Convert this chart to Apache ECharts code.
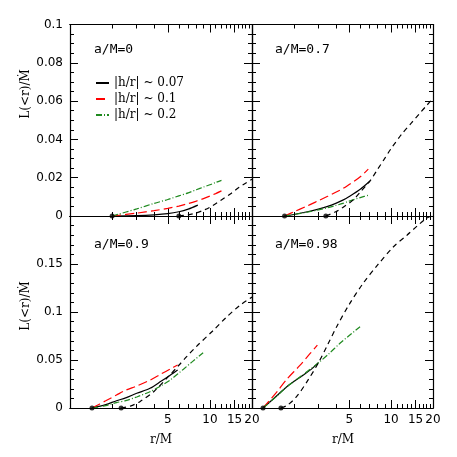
<!DOCTYPE html>
<html lang="en">
<head>
<meta charset="UTF-8">
<title>L(<r) vs r/M</title>
<script src="https://cdn.jsdelivr.net/npm/echarts@6/dist/echarts.min.js"></script>
<style>
  html, body { margin: 0; background: #fff; }
  #chart { width: 457px; height: 457px; }
</style>
</head>
<body>
<div id="chart"></div>
<script>
  // spin labels, horizon and ISCO radii (the black dots)
  var spins = ['0', '0.7', '0.9', '0.98']
  var horizon = [2, 1.714, 1.436, 1.2]
  var isco = [6, 3.393, 2.32, 1.614]

  // a/M = 0
  var h007_a0 = [[2, 0], [3, 0.0002], [4, 0.0006], [5, 0.0012], [6, 0.0022], [7, 0.0036], [8.2, 0.0057]]
  var h01_a0 = [[2, 0], [3, 0.0015], [4, 0.0028], [5, 0.004], [6, 0.0052], [7, 0.0065], [8, 0.0078], [9, 0.0091], [10, 0.0104], [11, 0.0117], [12.1, 0.0131]]
  var h02_a0 = [[2, 0], [3, 0.0037], [4, 0.0066], [5, 0.0086], [6, 0.0105], [7, 0.0121], [8, 0.0137], [9, 0.0151], [10, 0.0163], [11, 0.0175], [12.1, 0.0186]]
  var nt_a0 = [[6, 0], [7, 0.0006], [8, 0.0016], [9, 0.003], [10, 0.0046], [11, 0.0064], [12, 0.0082], [14, 0.0115], [16, 0.0147], [18, 0.0171], [20, 0.0192]]

  // a/M = 0.7
  var h007_a07 = [[1.714, 0], [2, 0.0008], [2.5, 0.0022], [3, 0.0036], [3.5, 0.005], [4, 0.0066], [4.5, 0.0083], [5, 0.0102], [6, 0.014], [7.05, 0.0183]]
  var h01_a07 = [[1.714, 0], [2, 0.0022], [2.5, 0.0053], [3, 0.008], [3.5, 0.0103], [4, 0.0124], [4.5, 0.0143], [5, 0.0165], [6, 0.0205], [6.85, 0.0245]]
  var h02_a07 = [[1.714, 0], [2, 0.0008], [2.5, 0.002], [3, 0.0032], [3.5, 0.0043], [4, 0.0055], [4.5, 0.0066], [5, 0.0078], [6, 0.0096], [6.97, 0.011]]
  var nt_a07 = [[3.393, 0], [4, 0.0022], [4.5, 0.0045], [5.34, 0.0084], [6, 0.0125], [7.05, 0.0183], [8, 0.0244], [9, 0.0301], [10, 0.0352], [12, 0.043], [14, 0.0486], [16, 0.0535], [18, 0.0577], [20, 0.0615]]

  // a/M = 0.9
  var h007_a09 = [[1.436, 0], [1.8, 0.0035], [2.15, 0.0076], [2.5, 0.0105], [3, 0.0153], [3.73, 0.0205], [4.5, 0.0281], [5.2, 0.0342], [5.88, 0.0396]]
  var h01_a09 = [[1.436, 0], [1.8, 0.0075], [2.15, 0.0135], [2.5, 0.0185], [3, 0.0229], [3.73, 0.029], [4.5, 0.0356], [5.2, 0.0406], [5.88, 0.0448]]
  var h02_a09 = [[1.436, 0], [1.8, 0.0025], [2.15, 0.0056], [2.5, 0.0077], [3, 0.0115], [3.73, 0.017], [4.5, 0.0233], [5.2, 0.0291], [5.88, 0.0354], [6.5, 0.0407], [7.5, 0.0483], [8.95, 0.0576]]
  var nt_a09 = [[2.32, 0], [2.7, 0.002], [3.16, 0.0066], [4, 0.0175], [5.04, 0.0326], [6, 0.0445], [6.82, 0.0535], [8, 0.064], [10.6, 0.081], [13, 0.094], [16.4, 0.107], [20, 0.1155]]

  // a/M = 0.98
  var h007_a098 = [[1.2, 0], [1.5, 0.0125], [1.78, 0.0222], [2, 0.0275], [2.34, 0.0344], [2.7, 0.041], [3, 0.0472]]
  var h01_a098 = [[1.2, 0], [1.5, 0.0162], [1.78, 0.03], [2.2, 0.0441], [2.6, 0.0563], [2.95, 0.0656]]
  var h02_a098 = [[1.2, 0], [1.5, 0.012], [1.78, 0.022], [2.34, 0.035], [3, 0.047], [3.6, 0.057], [4.29, 0.0674], [5, 0.0755], [5.98, 0.0847]]
  var nt_a098 = [[1.614, 0], [1.8, 0.003], [2.09, 0.0118], [2.5, 0.028], [3, 0.047], [3.5, 0.066], [4.06, 0.0847], [5, 0.108], [6.3, 0.13], [8, 0.149], [10.4, 0.168], [13, 0.18], [15.5, 0.19], [18, 0.1976], [19.5, 0.2]]

  var thin = [h007_a0, h007_a07, h007_a09, h007_a098]
  var mid = [h01_a0, h01_a07, h01_a09, h01_a098]
  var thick = [h02_a0, h02_a07, h02_a09, h02_a098]
  var nt = [nt_a0, nt_a07, nt_a09, nt_a098]

  var names = ['|h/r| ~ 0.07', '|h/r| ~ 0.1', '|h/r| ~ 0.2']

  // tick values
  var xMajorTicks = [5, 10, 15, 20]
  var xMinorTicks = [2, 3, 4, 6, 7, 8, 9, 11, 12, 13, 14, 16, 17, 18, 19]
  var xLabels = [5, 10, 15, 20]
  var yMaxTop = 0.1, yStepTop = 0.02
  var yMaxBottom = 0.2, yStepBottom = 0.05

  var chart = echarts.init(document.getElementById('chart'), null, { renderer: 'canvas' })

  var grids = [
    { left: 70, top: 24.5, width: 182, height: 191.5 },
    { left: 252, top: 24.5, width: 181, height: 191.5 },
    { left: 70, top: 216, width: 182, height: 192 },
    { left: 252, top: 216, width: 181, height: 192 }
  ]

  var tickFont = { color: '#000', fontFamily: 'DejaVu Sans', fontSize: 12 }
  var black = '#000'
  var red = '#ff0000'
  var green = '#1f8a1f'

  function xAxis(g, pos, ticks, len, labels) {
    return {
      type: 'log', logBase: 10, gridIndex: g, position: pos, min: 1, max: 20,
      axisLine: { show: true, lineStyle: { color: black, width: 1.2 } },
      axisTick: { show: true, inside: true, length: len, customValues: ticks, lineStyle: { color: black, width: 1 } },
      axisLabel: labels ? Object.assign({ show: true, margin: 6, customValues: xLabels, formatter: function (v) { return String(Math.round(v)) } }, tickFont) : { show: false },
      splitLine: { show: false }
    }
  }

  var xAxes = []
  var yAxes = []
  grids.forEach(function (gr, g) {
    var bottomRow = g >= 2
    xAxes.push(xAxis(g, 'bottom', xMajorTicks, 8, bottomRow))
    xAxes.push(xAxis(g, 'bottom', xMinorTicks, 4, false))
    xAxes.push(xAxis(g, 'top', xMajorTicks, 8, false))
    xAxes.push(xAxis(g, 'top', xMinorTicks, 4, false))
    ;['left', 'right'].forEach(function (pos) {
      yAxes.push({
        type: 'value', gridIndex: g, position: pos, min: 0,
        max: bottomRow ? yMaxBottom : yMaxTop,
        interval: bottomRow ? yStepBottom : yStepTop,
        axisLine: { show: true, lineStyle: { color: black, width: 1.2 } },
        axisTick: { show: true, inside: true, length: 8, lineStyle: { color: black, width: 1 } },
        minorTick: { show: true, splitNumber: bottomRow ? 5 : 4, length: 4, lineStyle: { color: black, width: 1 } },
        axisLabel: (pos === 'left' && g % 2 === 0) ? Object.assign({ show: true, margin: 7, showMaxLabel: !bottomRow }, tickFont) : { show: false },
        splitLine: { show: false }
      })
    })
  })

  var series = []
  grids.forEach(function (gr, g) {
    var xi = g * 4, yi = g * 2
    var common = { type: 'line', xAxisIndex: xi, yAxisIndex: yi, showSymbol: false, symbol: 'none', smooth: 0.3 }
    series.push(Object.assign({ name: names[0], data: thin[g], lineStyle: { color: black, width: 1.2 }, itemStyle: { color: black } }, common))
    series.push(Object.assign({ name: names[1], data: mid[g], lineStyle: { color: red, width: 1.2, type: [9, 4] }, itemStyle: { color: red } }, common))
    series.push(Object.assign({ name: names[2], data: thick[g], lineStyle: { color: green, width: 1.2, type: [6, 2, 1, 2] }, itemStyle: { color: green } }, common))
    series.push(Object.assign({ name: 'nt', data: nt[g], lineStyle: { color: black, width: 1.2, type: [5, 4] }, itemStyle: { color: black } }, common))
    series.push({
      type: 'scatter', xAxisIndex: xi, yAxisIndex: yi, clip: false, symbolSize: 5,
      itemStyle: { color: black }, data: [[horizon[g], 0], [isco[g], 0]], z: 5
    })
  })

  var serifText = { fill: '#000', fontFamily: 'DejaVu Serif', fontSize: 12 }
  var labelText = { fill: '#000', fontFamily: 'DejaVu Sans Mono', fontSize: 13 }
  var spinPos = [[94, 50], [275, 50], [94, 245], [275, 245]]

  var graphics = []
  spins.forEach(function (s, g) {
    graphics.push({ type: 'text', x: spinPos[g][0], y: spinPos[g][1], style: Object.assign({ text: 'a/M=' + s, textVerticalAlign: 'middle' }, labelText) })
  })
  ;[94, 306].forEach(function (cy) {
    graphics.push({ type: 'text', x: 26, y: cy, rotation: Math.PI / 2, style: Object.assign({ text: 'L(<r)/\u1E40', textAlign: 'center', textVerticalAlign: 'middle' }, serifText) })
  })
  ;[161, 343].forEach(function (cx) {
    graphics.push({ type: 'text', x: cx, y: 440, style: Object.assign({ text: 'r/M', textAlign: 'center', textVerticalAlign: 'middle' }, serifText) })
  })

  var option = {
    animation: false,
    backgroundColor: '#fff',
    grid: grids,
    xAxis: xAxes,
    yAxis: yAxes,
    legend: {
      data: names, orient: 'vertical', left: 90, top: 72, itemGap: 4,
      itemWidth: 13, itemHeight: 11, selectedMode: false,
      itemStyle: { opacity: 0 },
      textStyle: { color: '#000', fontFamily: 'DejaVu Serif', fontSize: 12 }
    },
    graphic: graphics,
    series: series
  }

  chart.setOption(option)
  window.addEventListener('resize', chart.resize)
</script>
</body>
</html>
